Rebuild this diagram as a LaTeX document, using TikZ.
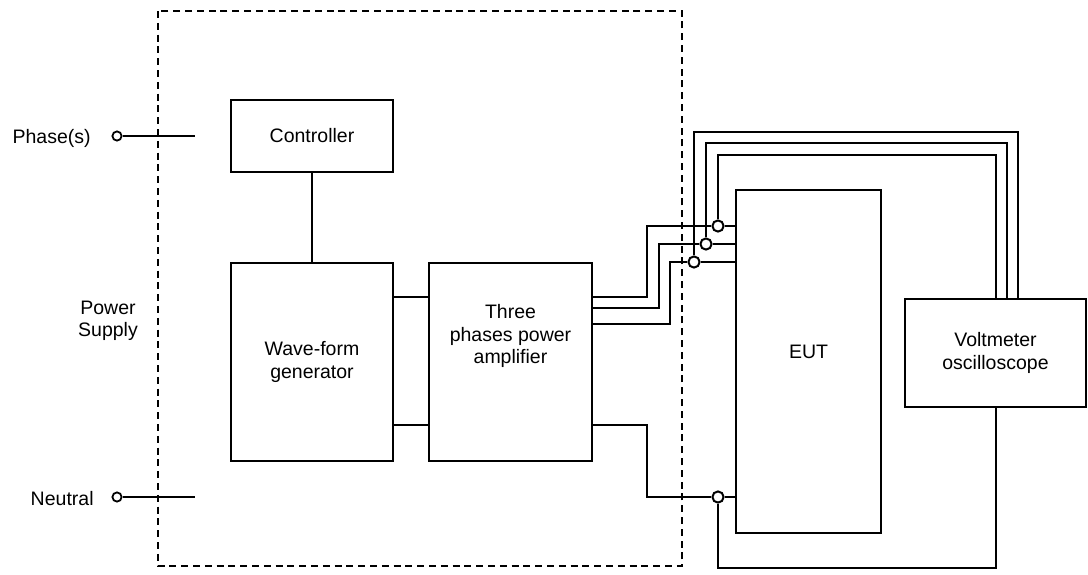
\documentclass[tikz,border=0pt]{standalone}
\usepackage{fontspec}
\setmainfont{Liberation Sans}

\begin{document}
\begin{tikzpicture}[x=0.5pt, y=-0.5pt, font=\fontsize{9.75}{11.25}\selectfont,
  blockn/.style={draw, line width=1pt, inner sep=0pt, align=center},
  junctn/.style={circle, draw, fill=white, line width=1pt, minimum size=5.6pt, inner sep=0pt},
  termn/.style={circle, draw, fill=white, line width=0.9pt, minimum size=4.6pt, inner sep=0pt},
  wire/.style={draw, line width=1pt},
  frame/.style={draw, line width=0.8pt, dash pattern=on 3.5pt off 2.4pt},
  lbl/.style={inner sep=0pt, align=center}
]
  \useasboundingbox (0,0) rectangle (1088,574);
  % ===== power supply frame =====
  \draw[frame] (158,11) rectangle (682,566);
  \node[lbl] (pslbl) at (108,321) {Power\\Supply};
  % ===== terminals =====
  \node[termn] (ph) at (117,136) {};
  \node[termn] (nt) at (117,497) {};
  \coordinate (phend) at (195,136);
  \coordinate (ntend) at (195,497);
  \draw[wire] (ph) -- (phend);
  \draw[wire] (nt) -- (ntend);
  \node[lbl, anchor=base east] (phlbl) at (91,143) {Phase(s)};
  \node[lbl, anchor=base east] (ntlbl) at (94,505) {Neutral};
  % ===== blocks =====
  \node[blockn, minimum width=81pt, minimum height=36pt] (ctrl) at (312,136) {Controller};
  \node[blockn, minimum width=81pt, minimum height=99pt] (wave) at (312,362) {Wave-form\\generator};
  \node[blockn, minimum width=81.5pt, minimum height=99pt,
    label={[anchor=north, yshift=-21pt, align=center, inner sep=0pt]north:Three\\phases power\\amplifier}] (amp) at (510.5,362) {};
  \node[blockn, minimum width=72.5pt, minimum height=171.5pt,
    label={[yshift=4.75pt, inner sep=0pt]center:EUT}] (eut) at (808.5,361.5) {};
  \node[blockn, minimum width=90.5pt, minimum height=54pt] (volt) at (995.5,353) {Voltmeter\\oscilloscope};
  % ===== junctions =====
  \node[junctn] (j1) at (718,226) {};
  \node[junctn] (j2) at (706,244) {};
  \node[junctn] (j3) at (694,262) {};
  \node[junctn] (jn) at (718,497) {};
  \coordinate (bus1) at (0,155);
  \coordinate (bus2) at (0,143);
  \coordinate (bus3) at (0,132);
  \coordinate (busn) at (0,568);
  % ===== supply internals =====
  \draw[wire] (ctrl) -- (wave);
  \draw[wire] ([yshift=-17.5pt]wave.north east) -- ([yshift=-17.5pt]amp.north west);
  \draw[wire] ([yshift=18.5pt]wave.south east) -- ([yshift=18.5pt]amp.south west);
  % ===== phases to EUT =====
  \draw[wire] ([yshift=-17.5pt]amp.north east) -- ++(27pt,0) |- (j1);
  \draw[wire] ([yshift=-23pt]amp.north east) -- ++(33pt,0) |- (j2);
  \draw[wire] ([yshift=-31pt]amp.north east) -- ++(38.5pt,0) |- (j3);
  \draw[wire] ([yshift=18.5pt]amp.south east) -- ++(27pt,0) |- (jn);
  \draw[wire] (j1) -- (j1 -| eut.west);
  \draw[wire] (j2) -- (j2 -| eut.west);
  \draw[wire] (j3) -- (j3 -| eut.west);
  \draw[wire] (jn) -- (jn -| eut.west);
  % ===== measuring leads =====
  \draw[wire] (j1) -- (j1 |- bus1) -| (volt.north);
  \draw[wire] (j2) -- (j2 |- bus2) -| ([xshift=5.5pt]volt.north);
  \draw[wire] (j3) -- (j3 |- bus3) -| ([xshift=11.25pt]volt.north);
  \draw[wire] (jn) -- (jn |- busn) -| (volt.south);
\end{tikzpicture}
\end{document}
